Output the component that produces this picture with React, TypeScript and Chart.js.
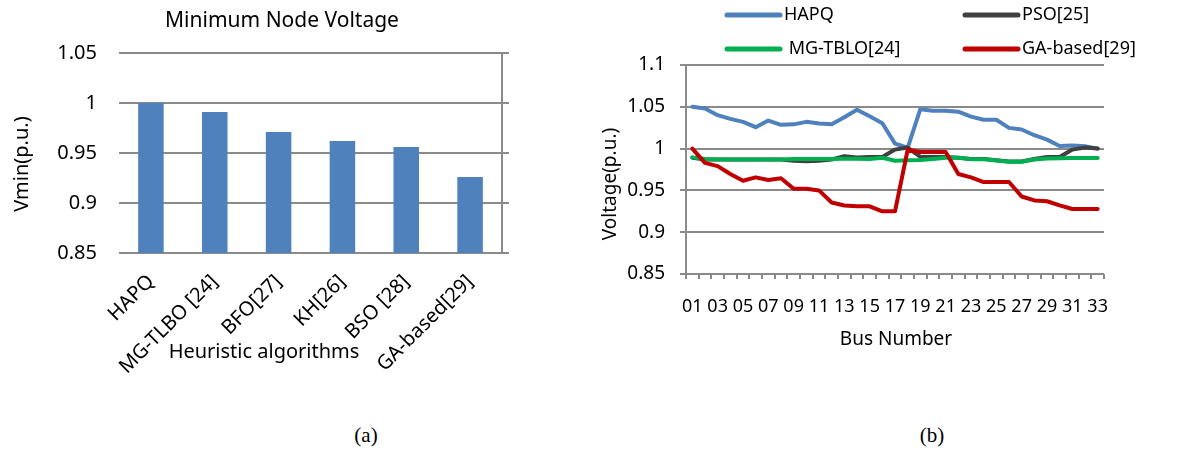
import React, { useEffect, useRef } from 'react';
import { Chart, registerables } from 'chart.js';

Chart.register(...registerables);

// ---------- Chart (a) data ----------
const algorithms = ['HAPQ', 'MG-TLBO [24]', 'BFO[27]', 'KH[26]', 'BSO [28]', 'GA-based[29]'];
const vmin = [1.0, 0.991, 0.971, 0.962, 0.956, 0.926];
const vminTicks = [0.85, 0.9, 0.95, 1, 1.05];
const vminTickLabels = ['0.85', '0.9', '0.95', '1', '1.05'];
const titleA = 'Minimum Node Voltage';
const yTitleA = 'Vmin(p.u.)';
const xTitleA = 'Heuristic algorithms';

// ---------- Chart (b) data ----------
const busNumbers = ['01', '02', '03', '04', '05', '06', '07', '08', '09', '10', '11', '12', '13', '14', '15', '16', '17',
  '18', '19', '20', '21', '22', '23', '24', '25', '26', '27', '28', '29', '30', '31', '32', '33'];
const hapq = [1.05, 1.048, 1.04, 1.0355, 1.032, 1.0256, 1.0335, 1.0284, 1.029, 1.032, 1.03, 1.029, 1.0375, 1.0465,
  1.0387, 1.0304, 1.006, 1.001, 1.0472, 1.0454, 1.0452, 1.0442, 1.0383, 1.0345, 1.0345, 1.0248, 1.0228, 1.016,
  1.0107, 1.003, 1.0038, 1.0028, 1.0];
const pso = [0.989, 0.987, 0.987, 0.987, 0.987, 0.987, 0.987, 0.987, 0.9855, 0.985, 0.9855, 0.987, 0.991, 0.9895,
  0.99, 0.99, 0.9988, 1.0012, 0.99, 0.99, 0.99, 0.989, 0.9875, 0.9875, 0.986, 0.9845, 0.9845, 0.9875, 0.99, 0.99,
  0.9988, 1.0012, 1.0];
const mgTblo = [0.9895, 0.9875, 0.987, 0.987, 0.987, 0.987, 0.987, 0.987, 0.9875, 0.9875, 0.9875, 0.9875, 0.988,
  0.988, 0.9875, 0.989, 0.9855, 0.986, 0.9865, 0.9877, 0.989, 0.989, 0.9874, 0.9874, 0.9858, 0.9842, 0.9842, 0.987,
  0.9882, 0.9885, 0.9889, 0.9889, 0.9889];
const gaBased = [1.0, 0.983, 0.979, 0.9696, 0.9616, 0.9656, 0.9625, 0.9645, 0.952, 0.952, 0.95, 0.9356, 0.932, 0.931,
  0.931, 0.925, 0.925, 0.9986, 0.996, 0.996, 0.996, 0.9696, 0.9656, 0.96, 0.96, 0.96, 0.9427, 0.938, 0.937, 0.932,
  0.9277, 0.9277, 0.9277];
const voltTicks = [0.85, 0.9, 0.95, 1, 1.05, 1.1];
const voltTickLabels = ['0.85', '0.9', '0.95', '1', '1.05', '1.1'];
const seriesLabels = ['HAPQ', 'PSO[25]', ' MG-TBLO[24]', 'GA-based[29]'];
const seriesColors = ['#4F81BD', '#404040', '#00B050', '#C00000'];
const yTitleB = 'Voltage(p.u.)';
const xTitleB = 'Bus Number';

const FONT = "'Noto Sans', 'Open Sans', sans-serif";
const GRID = '#8a8a8a';
const TEXT = '#000000';

function drawText(ctx: CanvasRenderingContext2D, text: string, x: number, y: number, size: number, rot = 0, align: CanvasTextAlign = 'center') {
  ctx.save();
  ctx.translate(x, y);
  ctx.rotate(rot);
  ctx.font = `${size}px ${FONT}`;
  ctx.fillStyle = TEXT;
  ctx.textAlign = align;
  ctx.textBaseline = 'middle';
  ctx.fillText(text, 0, 0);
  ctx.restore();
}

const W_A = 560, H_A = 400;
const W_B = 594, H_B = 400;
const B_LEFT = 590;      // page x of canvas (b)
const B_AXIS = 686;      // page x of the y axis of (b)
const B_RIGHT = 1104;    // page x of the right end of plot (b)

export default function App() {
  const refA = useRef<HTMLCanvasElement>(null);
  const refB = useRef<HTMLCanvasElement>(null);

  useEffect(() => {
    const textsA = {
      id: 'textsA',
      afterDraw(chart: any) {
        const ctx = chart.ctx;
        drawText(ctx, titleA, 282, 21, 21);
        drawText(ctx, yTitleA, 22, 164, 20, -Math.PI / 2);
        drawText(ctx, xTitleA, 264, 352, 20);
      },
    };
    const chartA = new Chart(refA.current!, {
      type: 'bar',
      data: {
        labels: algorithms,
        datasets: [{ data: vmin, backgroundColor: '#4F81BD', barPercentage: 0.4, categoryPercentage: 1 }],
      },
      options: {
        animation: false,
        responsive: false,
        devicePixelRatio: 1,
        layout: { padding: { top: 53, left: 0, right: W_A - 502 - 8, bottom: 0 } },
        plugins: { legend: { display: false }, tooltip: { enabled: false } },
        scales: {
          x: {
            grid: { display: false },
            border: { display: false },
            ticks: {
              minRotation: 45, maxRotation: 45, autoSkip: false, padding: 9,
              color: TEXT, font: { family: FONT, size: 20 },
            },
            afterFit: (s: any) => { s.height = H_A - 253; },
          },
          y: {
            min: 0.85, max: 1.05,
            afterBuildTicks: (s: any) => { s.ticks = vminTicks.map((v) => ({ value: v })); },
            grid: { color: GRID, lineWidth: 2, drawTicks: false },
            border: { display: false },
            ticks: {
              padding: 22, color: TEXT, font: { family: FONT, size: 20 },
              callback: (_v: any, i: number) => vminTickLabels[i],
            },
            afterFit: (s: any) => { s.width = 119; },
          },
          y2: {
            position: 'right',
            min: 0.85, max: 1.05,
            afterBuildTicks: (s: any) => { s.ticks = vminTicks.map((v) => ({ value: v })); },
            grid: { color: GRID, lineWidth: 2, drawOnChartArea: false, drawTicks: true, tickLength: 7 },
            border: { display: true, color: GRID, width: 2 },
            ticks: { display: false },
            afterFit: (s: any) => { s.width = 8; },
          },
        },
      },
      plugins: [textsA],
    } as any);

    const textsB = {
      id: 'textsB',
      afterDraw(chart: any) {
        const ctx = chart.ctx;
        drawText(ctx, yTitleB, 21, 184, 19, -Math.PI / 2);
        drawText(ctx, xTitleB, 306, 340, 19);
        const cols = [137, 375];
        const rows = [15, 49];
        seriesLabels.forEach((lab, i) => {
          const cx = cols[i % 2];
          const cy = rows[Math.floor(i / 2)];
          ctx.save();
          ctx.strokeStyle = seriesColors[i];
          ctx.lineWidth = 5;
          ctx.lineCap = 'round';
          ctx.beginPath();
          ctx.moveTo(cx, cy);
          ctx.lineTo(cx + 53, cy);
          ctx.stroke();
          ctx.restore();
          drawText(ctx, lab, cx + 57, cy, 18, 0, 'left');
        });
      },
    };
    const order = [3, 2, 1, 0];
    const seriesData = [hapq, pso, mgTblo, gaBased];
    const chartB = new Chart(refB.current!, {
      type: 'line',
      data: {
        labels: busNumbers,
        datasets: order.map((i) => ({
          label: seriesLabels[i],
          data: seriesData[i],
          borderColor: seriesColors[i],
          backgroundColor: seriesColors[i],
          borderWidth: 4,
          pointRadius: 0,
          tension: 0,
          borderJoinStyle: 'round',
          borderCapStyle: 'round',
        })),
      },
      options: {
        animation: false,
        responsive: false,
        devicePixelRatio: 1,
        layout: { padding: { top: 65, left: 0, right: W_B - (B_RIGHT - B_LEFT), bottom: 0 } },
        plugins: { legend: { display: false }, tooltip: { enabled: false } },
        scales: {
          x: {
            offset: true,
            grid: { display: true, drawOnChartArea: false, drawTicks: true, tickLength: 5, offset: true, color: GRID, lineWidth: 2 },
            border: { display: false },
            ticks: {
              autoSkip: false, maxRotation: 0, minRotation: 0, padding: 17,
              color: TEXT, font: { family: FONT, size: 18 },
              callback: (_v: any, i: number) => (i % 2 === 0 ? busNumbers[i] : ''),
            },
            afterFit: (s: any) => { s.height = H_B - 274; },
          },
          y: {
            min: 0.85, max: 1.1,
            afterBuildTicks: (s: any) => { s.ticks = voltTicks.map((v) => ({ value: v })); },
            grid: { color: GRID, lineWidth: 2, drawTicks: true, tickLength: 6 },
            border: { display: true, color: GRID, width: 2 },
            ticks: {
              padding: 15, color: TEXT, font: { family: FONT, size: 19 },
              callback: (_v: any, i: number) => voltTickLabels[i],
            },
            afterFit: (s: any) => { s.width = B_AXIS - B_LEFT; },
          },
        },
      },
      plugins: [textsB],
    } as any);

    return () => { chartA.destroy(); chartB.destroy(); };
  }, []);

  const cap: React.CSSProperties = {
    position: 'absolute', top: 422, width: 60, textAlign: 'center',
    fontFamily: "'Liberation Serif', 'Times New Roman', serif", fontSize: 21, lineHeight: '26px', color: '#000',
  };

  return (
    <div style={{ position: 'fixed', left: 0, top: 0, width: 1184, height: 452, background: '#fff', overflow: 'hidden' }}>
      <canvas ref={refA} width={W_A} height={H_A} style={{ position: 'absolute', left: 0, top: 0 }} />
      <canvas ref={refB} width={W_B} height={H_B} style={{ position: 'absolute', left: B_LEFT, top: 0 }} />
      <div style={{ ...cap, left: 366 - 30 }}>(a)</div>
      <div style={{ ...cap, left: 932 - 30 }}>(b)</div>
    </div>
  );
}
